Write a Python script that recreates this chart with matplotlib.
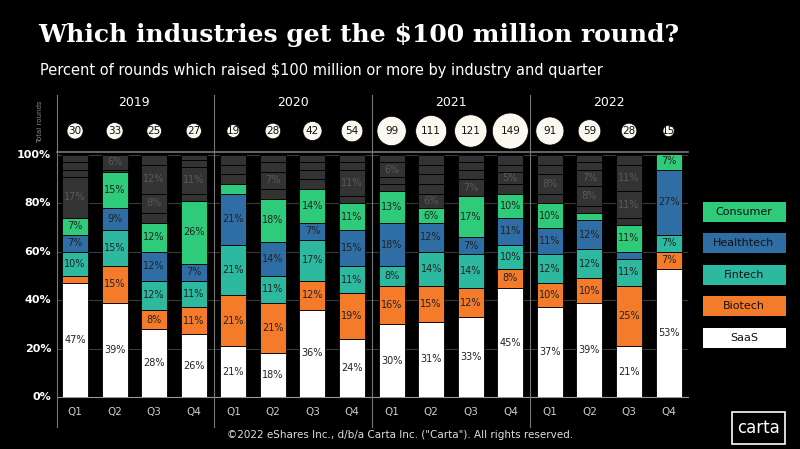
import matplotlib
matplotlib.use("Agg")
import matplotlib.pyplot as plt
from matplotlib.patches import Rectangle

years = ["2019", "2020", "2021", "2022"]
quarters = ["Q1", "Q2", "Q3", "Q4"]
total_rounds = [30, 33, 25, 27, 19, 28, 42, 54, 99, 111, 121, 149, 91, 59, 28, 15]
saas = [47, 39, 28, 26, 21, 18, 36, 24, 30, 31, 33, 45, 37, 39, 21, 53]
biotech = [3, 15, 8, 11, 21, 21, 12, 19, 16, 15, 12, 8, 10, 10, 25, 7]
fintech = [10, 15, 12, 11, 21, 11, 17, 11, 8, 14, 14, 10, 12, 12, 11, 7]
healthtech = [7, 9, 12, 7, 21, 14, 7, 15, 18, 12, 7, 11, 11, 12, 3, 27]
consumer = [7, 15, 12, 26, 4, 18, 14, 11, 13, 6, 17, 10, 10, 3, 11, 7]
others = [[17, 3, 3, 3], [1, 6], [4, 8, 12, 4], [3, 11, 3, 2], [4, 4, 4], [4, 7, 4, 3],
          [4, 4, 3, 3], [3, 11, 3, 3], [3, 3, 6, 3], [6, 4, 4, 4, 4], [7, 4, 3, 3],
          [4, 5, 3, 4], [4, 8, 4, 4], [3, 8, 7, 3, 3], [3, 11, 11, 4], []]
series_names = ["SaaS", "Biotech", "Fintech", "Healthtech", "Consumer"]
series = [saas, biotech, fintech, healthtech, consumer]
colors = ["#FFFFFF", "#F47B2A", "#2DB8A0", "#2F6EA5", "#2ECC7A"]

fig = plt.figure(figsize=(8, 4.49), dpi=100, facecolor="black")
W, H = 800, 449
ax = fig.add_axes([57 / W, (H - 397) / H, 631 / W, 242 / H])
ax.set_facecolor("black")
ax.set_xlim(-0.456, 15.49)
ax.set_ylim(0, 100)
for s in ax.spines.values():
    s.set_visible(False)
ax.set_xticks([]); ax.set_yticks([])

def py(p):
    return (397 - p) / 2.42

for g in [20, 40, 60, 80, 100]:
    ax.axhline(g, color="#3a3a3a", lw=0.8, zorder=0)
    ax.text(-0.6, g, f"{g}%", color="white", fontsize=8, fontweight="bold",
            ha="right", va="center")
ax.text(-0.6, 0, "0%", color="white", fontsize=8, fontweight="bold", ha="right", va="center")
ax.plot([-0.456, 15.49], [py(152)] * 2, color="#777777", lw=1.2, clip_on=False)
ax.plot([-0.456, 15.49], [0, 0], color="#999999", lw=0.8, clip_on=False)
for xs in [-0.456, 3.5, 7.5, 11.5]:
    ax.plot([xs, xs], [py(427), py(95)], color="#777777", lw=0.8, clip_on=False)

bw = 26 / 39.5
x = list(range(16))
for i in x:
    bottom = 0
    for vals, c in zip(series, colors):
        v = vals[i]
        ax.bar(i, v, bw, bottom=bottom, color=c, edgecolor="black", lw=0.6, zorder=2)
        if v >= 5:
            ax.text(i, bottom + v / 2, f"{v}%", ha="center", va="center",
                    fontsize=7, color="#222222", zorder=3)
        bottom += v
    for v in others[i]:
        ax.bar(i, v, bw, bottom=bottom, color="#333333", edgecolor="black", lw=0.6, zorder=2)
        if v >= 5:
            ax.text(i, bottom + v / 2, f"{v}%", ha="center", va="center",
                    fontsize=7, color="#5a5a5a", zorder=3)
        bottom += v
    ax.text(i, py(412), quarters[i % 4], color="#cccccc", fontsize=7.5, ha="center", va="center")

for k, yr in enumerate(years):
    ax.text(4 * k + 1.5, py(102), yr, color="white", fontsize=9, ha="center", va="center")

ax.scatter(x, [py(131)] * 16, s=[4.5 * t for t in total_rounds], color="#FBF8F0",
           edgecolor="black", lw=0.5, zorder=3, clip_on=False)
for i, t in zip(x, total_rounds):
    ax.text(i, py(131), str(t), color="#111111", fontsize=7.5, ha="center", va="center", zorder=4)

fig.text(40 / W, 1 - 122 / H, "Total rounds", rotation=90, color="#888888", fontsize=5,
         ha="center", va="center")

fig.text(38 / W, 1 - 35 / H, "Which industries get the \\$100 million round?",
         family="DejaVu Serif", fontweight="bold", fontsize=18, color="white", va="center")
fig.text(40 / W, 1 - 70 / H, "Percent of rounds which raised \\$100 million or more by industry and quarter",
         fontsize=10.5, color="white", va="center")
fig.text(400 / W, 1 - 435 / H, "©2022 eShares Inc., d/b/a Carta Inc. (\"Carta\"). All rights reserved.",
         fontsize=7.5, color="#dddddd", ha="center", va="center")

legend_y = {"Consumer": 212, "Healthtech": 243, "Fintech": 275, "Biotech": 306, "SaaS": 338}
for name, c in zip(series_names, colors):
    yc = legend_y[name]
    fig.patches.append(Rectangle((703 / W, 1 - (yc + 10) / H), 83 / W, 20 / H,
                                 transform=fig.transFigure, facecolor=c, edgecolor="none"))
    fig.text(744 / W, 1 - yc / H, name, fontsize=8, color="#111111", ha="center", va="center")

fig.patches.append(Rectangle((732 / W, 1 - 444 / H), 53 / W, 32 / H, transform=fig.transFigure,
                             facecolor="black", edgecolor="white", lw=1.2))
fig.text(758.5 / W, 1 - 428 / H, "carta", fontsize=12, color="white", ha="center", va="center")

fig.savefig("out.png", dpi=100, facecolor="black")
